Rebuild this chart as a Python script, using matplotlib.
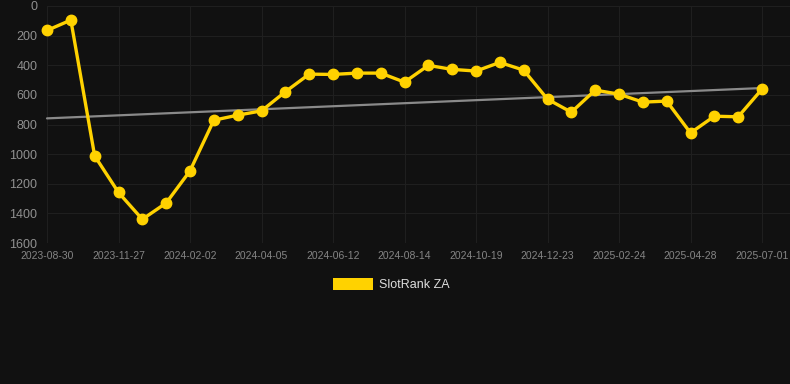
import matplotlib
matplotlib.use("Agg")
import matplotlib.pyplot as plt
import numpy as np
from matplotlib.patches import Rectangle

tick_labels = ["2023-08-30", "2023-11-27", "2024-02-02", "2024-04-05", "2024-06-12",
               "2024-08-14", "2024-10-19", "2024-12-23", "2025-02-24", "2025-04-28",
               "2025-07-01"]
label_every = 3
values = [165, 95, 1012, 1259, 1440, 1330, 1113, 771, 737, 708,
          579, 460, 462, 453, 453, 514, 401, 428, 439, 381,
          433, 629, 717, 568, 595, 649, 642, 857, 744, 748, 561]
series_name = "SlotRank ZA"

plt.rcParams['font.family'] = ['Liberation Sans', 'DejaVu Sans']
BG = "#111111"
fig = plt.figure(figsize=(7.9, 3.84), dpi=100, facecolor=BG)
W, H = 790, 384
left, right, top, bottom = 47, 790, 6, 243
ax = fig.add_axes([left / W, 1 - bottom / H, (right - left) / W, (bottom - top) / H])
ax.set_facecolor(BG)

x = np.arange(len(values))
step = (762 - 47) / (len(values) - 1)
ax.set_xlim(0, (len(values) - 1) + (right - 762) / step)
ax.set_ylim(1600, 0)

# trend line (linear regression)
coef = np.polyfit(x, values, 1)
ax.plot(x, np.polyval(coef, x), color="#8a8a8a", lw=1.6, zorder=2,
        solid_capstyle="round", clip_on=False)

ax.plot(x, values, color="#FFD200", lw=2.4, marker="o", markersize=7.5,
        markerfacecolor="#FFD200", markeredgecolor="#FFD200", zorder=3,
        clip_on=False)

ax.set_yticks(np.arange(0, 1601, 200))
ax.set_xticks(x[::label_every])
ax.set_xticklabels(tick_labels)
ax.grid(True, color="#1f1f1f", lw=0.75)
ax.set_axisbelow(True)
for s in ax.spines.values():
    s.set_visible(False)
ax.tick_params(axis="y", colors="#909090", labelsize=9, length=0, pad=7)
ax.tick_params(axis="x", colors="#858585", labelsize=7.5, length=0, pad=6)

# legend
fig.patches.append(Rectangle((333 / W, 1 - 290 / H), 40 / W, 12 / H,
                             transform=fig.transFigure, facecolor="#FFD200",
                             edgecolor="none"))
fig.text(379 / W, 1 - 284.5 / H, series_name, color="#dddddd", fontsize=9,
         va="center", ha="left")

fig.savefig("out.png", dpi=100, facecolor=BG)
